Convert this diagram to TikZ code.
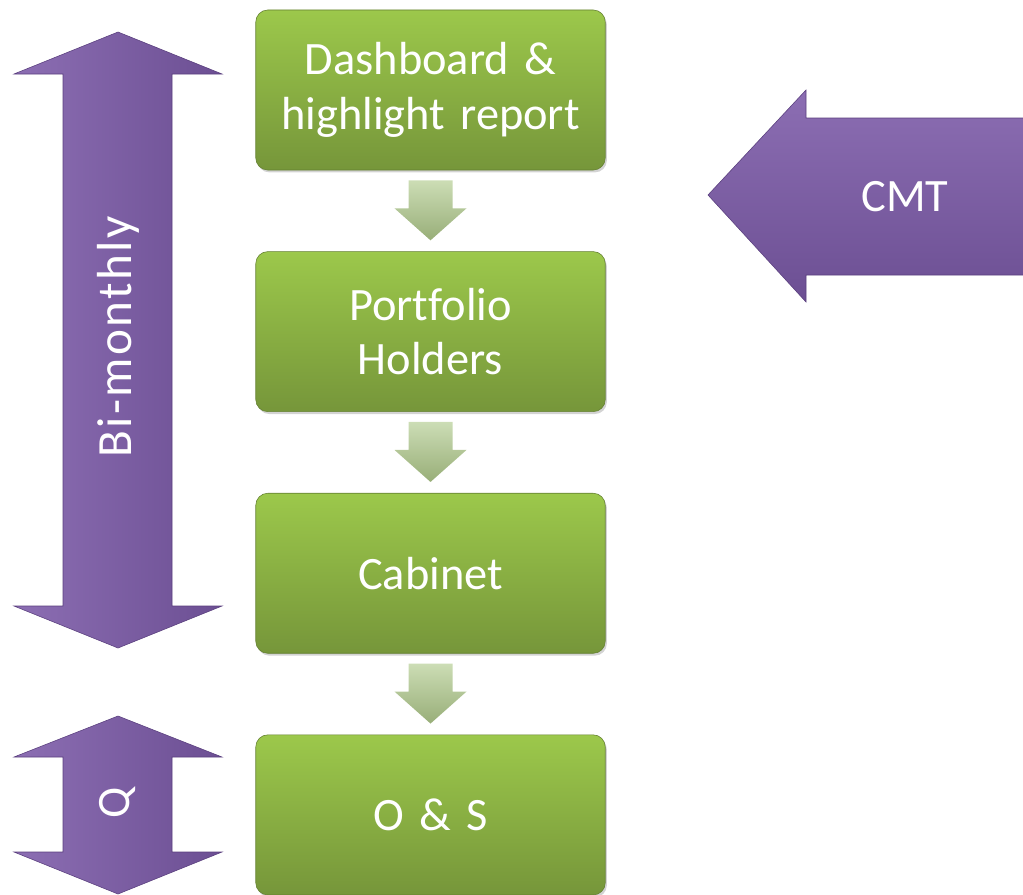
\documentclass[tikz,border=0pt]{standalone}
\usepackage{fontspec}
\setmainfont{Carlito}[Ligatures=NoCommon, WordSpace=0.8]
\usepackage{xcolor}
\usepackage{tikz}
\usetikzlibrary{positioning, calc, shadows}

\definecolor{greentop}{HTML}{9CC84B}
\definecolor{greenbot}{HTML}{76963A}
\definecolor{flowtop}{HTML}{CCDDB5}
\definecolor{flowbot}{HTML}{98AE78}
\definecolor{purpleleft}{HTML}{8C6EB3}
\definecolor{purpleright}{HTML}{6C4F93}
\definecolor{purpleedge}{HTML}{5A3F7E}

\begin{document}
\begin{tikzpicture}[
  x=0.025cm, y=-0.025cm,
  node distance = 2.025cm,
  stepbox/.style = {rectangle, rounded corners=0.3cm, minimum width=8.6cm, minimum height=4cm, text width=8.5cm, align=center, top color=greentop, bottom color=greenbot, draw=greenbot!85!black, thin, drop shadow={opacity=0.35, shadow xshift=0.04cm, shadow yshift=-0.06cm}, text=white, font=\fontsize{33}{39}\selectfont},
  flow/.style = {top color=flowtop, bottom color=flowbot},
  period/.style = {left color=purpleleft, right color=purpleright, draw=purpleedge, thin},
  cmtarrow/.style = {top color=purpleleft, bottom color=purpleright, draw=purpleedge, thin},
  tag/.style = {text=white, font=\fontsize{33}{39}\selectfont}
  ]
 \useasboundingbox (0,0) rectangle (1023,894);
 % Period arrows
 \shade[period] (118,32) -- (222,74) -- (172,74) -- (172,606) -- (222,606) -- (118,648) -- (14,606) -- (63,606) -- (63,74) -- (14,74) -- cycle;
 \node[tag, rotate=90] (bimonthly) at (118,337) {\fontsize{35}{40}\selectfont\addfontfeatures{LetterSpace=5}Bi-monthly};
 \shade[period] (118,716) -- (222,757) -- (172,757) -- (172,852) -- (222,852) -- (118,894) -- (14,852) -- (63,852) -- (63,757) -- (14,757) -- cycle;
 \node[tag, rotate=90] (quarterly) at (118,803) {Q};
 % CMT arrow
 \shade[cmtarrow] (708,195) -- (806,90) -- (806,118) -- (1024,118) -- (1024,275) -- (806,275) -- (806,302) -- cycle;
 \node[tag] (cmt) at (905,197) {CMT};
 % Steps
 \node[stepbox] (dashboard) at (430.5,90)
  {Dashboard \&\\ highlight report};
 \node[stepbox, below=of dashboard] (holders)
  {Portfolio\\ Holders};
 \node[stepbox, below=of holders] (cabinet)
  {Cabinet};
 \node[stepbox, below=of cabinet] (os)
  {O \& S};
 % Arrows
 \shade[flow] ($(dashboard.south)+(-22,10)$) -- ($(dashboard.south)+(22,10)$) -- ($(holders.north)+(22,-43)$) -- ($(holders.north)+(36,-43)$) -- ($(holders.north)+(0,-11)$) -- ($(holders.north)+(-36,-43)$) -- ($(holders.north)+(-22,-43)$) -- cycle;
 \shade[flow] ($(holders.south)+(-22,10)$) -- ($(holders.south)+(22,10)$) -- ($(cabinet.north)+(22,-43)$) -- ($(cabinet.north)+(36,-43)$) -- ($(cabinet.north)+(0,-11)$) -- ($(cabinet.north)+(-36,-43)$) -- ($(cabinet.north)+(-22,-43)$) -- cycle;
 \shade[flow] ($(cabinet.south)+(-22,10)$) -- ($(cabinet.south)+(22,10)$) -- ($(os.north)+(22,-43)$) -- ($(os.north)+(36,-43)$) -- ($(os.north)+(0,-11)$) -- ($(os.north)+(-36,-43)$) -- ($(os.north)+(-22,-43)$) -- cycle;
\end{tikzpicture}
\end{document}
